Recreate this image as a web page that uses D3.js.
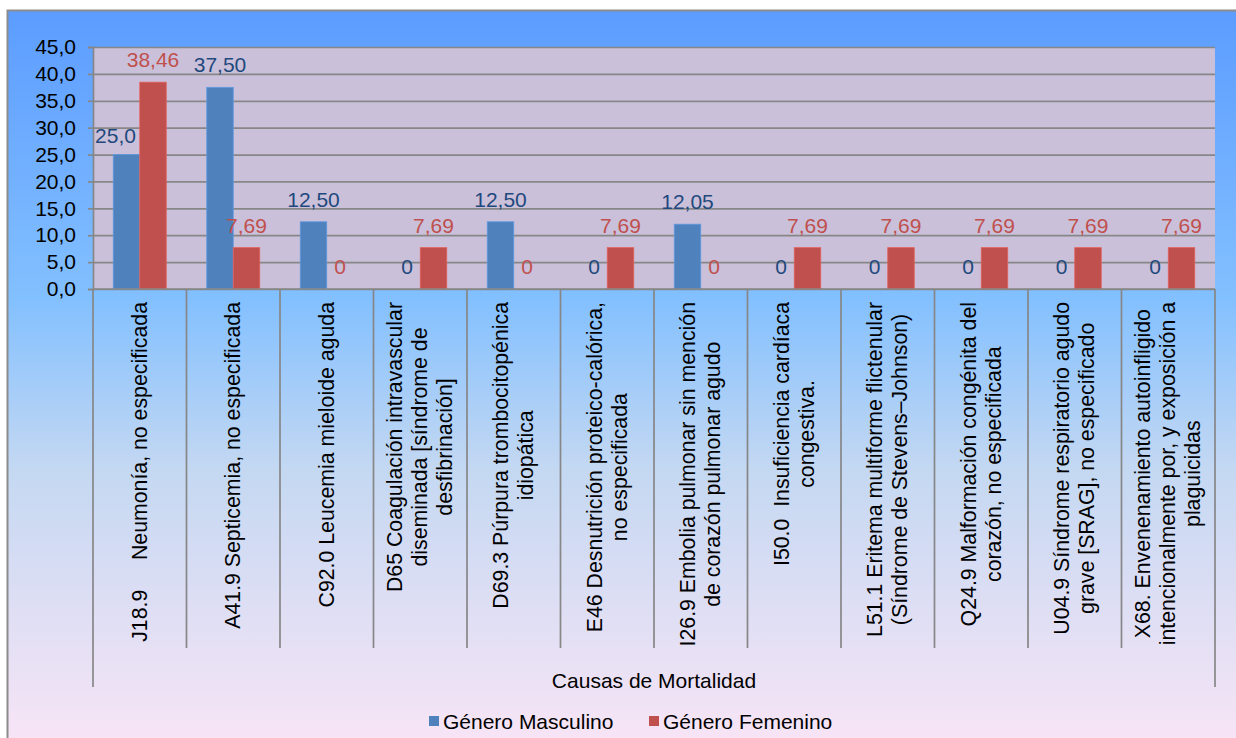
<!DOCTYPE html>
<html lang="es">
<head>
  <meta charset="UTF-8">
  <title>Causas de Mortalidad</title>
  <style>
    body { margin: 0; background: #fff; }
    svg { display: block; font-family: "Liberation Sans", Arial, sans-serif; }
  </style>
</head>
<body>
<svg width="1236" height="738"></svg>

<script src="https://cdn.jsdelivr.net/npm/d3@7/dist/d3.min.js"></script>
<script>
  // datos
  var categories = [
    ["J18.9\u00a0\u00a0\u00a0\u00a0\u00a0Neumonía, no especificada"],
    ["A41.9 Septicemia, no especificada"],
    ["C92.0 Leucemia mieloide aguda"],
    ["D65 Coagulación intravascular", "diseminada [síndrome de", "desfibrinación]"],
    ["D69.3 Púrpura trombocitopénica", "idiopática"],
    ["E46 Desnutrición proteico-calórica,", "no especificada"],
    ["I26.9 Embolia pulmonar sin mención", "de corazón pulmonar agudo"],
    ["I50.0\u00a0\u00a0Insuficiencia cardíaca", "congestiva."],
    ["L51.1 Eritema multiforme flictenular", "(Síndrome de Stevens–Johnson)"],
    ["Q24.9 Malformación congénita del", "corazón, no especificada"],
    ["U04.9 Síndrome respiratorio agudo", "grave [SRAG], no especificado"],
    ["X68. Envenenamiento autoinfligido", "intencionalmente por, y exposición a", "plaguicidas"]
  ];
  var seriesNames = ["Género Masculino", "Género Femenino"];
  var masculino = [25.0, 37.5, 12.5, 0, 12.5, 0, 12.05, 0, 0, 0, 0, 0];
  var femenino = [38.46, 7.69, 0, 7.69, 0, 7.69, 0, 7.69, 7.69, 7.69, 7.69, 7.69];
  var masculinoLabels = ["25,0", "37,50", "12,50", "0", "12,50", "0", "12,05", "0", "0", "0", "0", "0"];
  var femeninoLabels = ["38,46", "7,69", "0", "7,69", "0", "7,69", "0", "7,69", "7,69", "7,69", "7,69", "7,69"];
  var yTicks = [0, 5, 10, 15, 20, 25, 30, 35, 40, 45];
  var axisTitle = "Causas de Mortalidad";

  var barColors = ["#4f81bd", "#c0504d"];
  var labelColors = ["#1f497d", "#c0504d"];
  var gridColor = "#878787";

  var svg = d3.select("svg");
  var plot = {left: 93, right: 1215, top: 47, bottom: 289};

  // fondo degradado
  var defs = svg.append("defs");
  var grad = defs.append("linearGradient").attr("id", "bg").attr("x1", 0).attr("y1", 0).attr("x2", 0).attr("y2", 1);
  grad.append("stop").attr("offset", "0").attr("stop-color", "#5c9cff");
  grad.append("stop").attr("offset", "0.39").attr("stop-color", "#83c0ff");
  grad.append("stop").attr("offset", "0.62").attr("stop-color", "#c4d8f2");
  grad.append("stop").attr("offset", "1").attr("stop-color", "#f9e5f6");

  svg.append("rect").attr("x", 7.5).attr("y", 10.5).attr("width", 1240).attr("height", 740)
    .attr("fill", "url(#bg)").attr("stroke", "#8c8c8c").attr("stroke-width", 2);

  svg.append("rect").attr("x", plot.left).attr("y", plot.top)
    .attr("width", plot.right - plot.left).attr("height", plot.bottom - plot.top)
    .attr("fill", "#cac0da");

  var y = d3.scaleLinear().domain([0, 45]).range([plot.bottom, plot.top]);
  var x0 = d3.scaleBand().domain(d3.range(categories.length)).range([plot.left, plot.right]);
  var x1 = d3.scaleBand().domain([0, 1]).range([0, x0.bandwidth()]).paddingInner(0).paddingOuter(0.764);

  var fmt = function (d) { return d3.format(".1f")(d).replace(".", ","); };

  // rejilla
  var grid = svg.append("g").attr("transform", "translate(" + plot.left + ",0)")
    .call(d3.axisLeft(y).tickValues(yTicks).tickSize(-(plot.right - plot.left)).tickFormat(""));
  grid.select(".domain").remove();
  grid.selectAll("line").attr("stroke", gridColor).attr("stroke-width", 1.7);

  // eje y
  var yAxis = svg.append("g").attr("transform", "translate(" + plot.left + ",0)")
    .call(d3.axisLeft(y).tickValues(yTicks).tickSize(5).tickPadding(12).tickFormat(fmt));
  yAxis.select(".domain").attr("stroke", gridColor).attr("stroke-width", 1.7);
  yAxis.selectAll("line").attr("stroke", gridColor).attr("stroke-width", 1.7);
  yAxis.selectAll("text").attr("font-size", 21).attr("fill", "#000")
    .attr("font-family", "Liberation Sans, Arial, sans-serif");

  // barras
  var series = [masculino, femenino];
  var labels = [masculinoLabels, femeninoLabels];
  var groups = svg.append("g").selectAll("g").data(categories).enter().append("g")
    .attr("transform", function (d, i) { return "translate(" + x0(i) + ",0)"; });

  groups.selectAll("rect").data(function (d, i) {
    return [0, 1].map(function (s) { return {s: s, v: series[s][i]}; });
  }).enter().append("rect")
    .attr("x", function (d) { return x1(d.s); })
    .attr("y", function (d) { return y(d.v); })
    .attr("width", x1.bandwidth())
    .attr("height", function (d) { return y(0) - y(d.v); })
    .attr("fill", function (d) { return barColors[d.s]; })
    .attr("stroke", function (d) { return d3.color(barColors[d.s]).brighter(0.5); })
    .attr("stroke-width", 0.8);

  // eje x
  svg.append("line").attr("x1", plot.left).attr("x2", plot.right)
    .attr("y1", plot.bottom).attr("y2", plot.bottom)
    .attr("stroke", gridColor).attr("stroke-width", 1.7);
  var bounds = d3.range(categories.length + 1);
  svg.append("g").selectAll("line").data(bounds).enter().append("line")
    .attr("x1", function (d) { return d < categories.length ? x0(d) : plot.right; })
    .attr("x2", function (d) { return d < categories.length ? x0(d) : plot.right; })
    .attr("y1", plot.bottom)
    .attr("y2", function (d) { return (d === 0 || d === categories.length) ? 687 : 648; })
    .attr("stroke", gridColor).attr("stroke-width", 1.7);

  // etiquetas de datos
  groups.selectAll("text.val").data(function (d, i) {
    return [0, 1].map(function (s) { return {s: s, v: series[s][i], t: labels[s][i], i: i}; });
  }).enter().append("text").attr("class", "val")
    .attr("x", function (d) {
      var cx = x1(d.s) + x1.bandwidth() / 2;
      // Excel movio esta etiqueta a la izquierda para no chocar
      if (d.i === 0 && d.s === 0) cx -= 11;
      return cx;
    })
    .attr("y", function (d) { return y(d.v) - (d.i === 0 && d.s === 0 ? 12 : 15); })
    .attr("text-anchor", "middle")
    .attr("font-size", 21)
    .attr("fill", function (d) { return labelColors[d.s]; })
    .text(function (d) { return d.t; });

  // etiquetas de categorias (rotadas)
  var lineH = 25, labelTop = 302;
  groups.each(function (lines, i) {
    var g = d3.select(this);
    var cx = x0.bandwidth() / 2;
    var t = g.append("text").attr("font-size", 21.3).attr("fill", "#000")
      .attr("text-anchor", "middle");
    lines.forEach(function (ln, k) {
      t.append("tspan").attr("x", 0).attr("dy", k === 0 ? 0 : lineH).text(ln);
    });
    var maxW = 0;
    t.selectAll("tspan").each(function () { maxW = Math.max(maxW, this.getComputedTextLength()); });
    var n = lines.length;
    // centro del bloque en el ancho de banda
    var baseX = cx - ((n - 1) * lineH) / 2 + 7;
    var cy = labelTop + maxW / 2;
    t.attr("transform", "translate(" + baseX + "," + cy + ") rotate(-90)");
  });

  // titulo del eje
  svg.append("text").attr("x", (plot.left + plot.right) / 2).attr("y", 688)
    .attr("text-anchor", "middle").attr("font-size", 21).attr("fill", "#000")
    .text(axisTitle);

  // leyenda
  var legendX = [429, 649];
  var legend = svg.append("g").selectAll("g").data(seriesNames).enter().append("g")
    .attr("transform", function (d, i) { return "translate(" + legendX[i] + ",716)"; });
  legend.append("rect").attr("width", 10).attr("height", 10)
    .attr("fill", function (d, i) { return barColors[i]; });
  legend.append("text").attr("x", 14).attr("y", 13).attr("font-size", 21).attr("fill", "#000")
    .text(function (d) { return d; });
</script>
</body>
</html>
